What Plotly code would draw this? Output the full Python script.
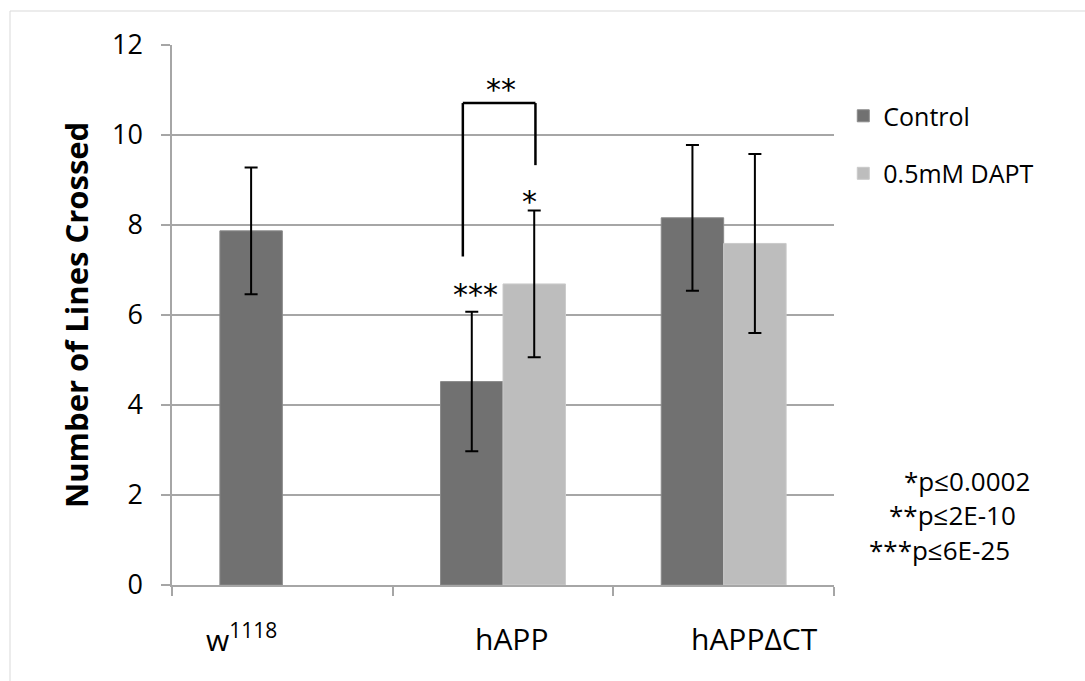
import plotly.graph_objects as go

categories = ["w1118", "hAPP", "hAPPΔCT"]
category_labels = ["w<sup>1118</sup>", "hAPP", "hAPPΔCT"]
control = [7.87, 4.52, 8.16]
control_err = [1.41, 1.55, 1.62]
dapt = [None, 6.69, 7.59]
dapt_err = [None, 1.63, 1.99]
series_names = ["Control", "0.5mM DAPT"]
pvalue_notes = ["*p≤0.0002", "**p≤2E-10", "***p≤6E-25"]
y_ticks = [0, 2, 4, 6, 8, 10, 12]

FONT = "Open Sans"
GRID = "#a6a6a6"

fig = go.Figure()
fig.add_trace(go.Bar(
    x=categories, y=control, name=series_names[0],
    marker=dict(color="#717171", line=dict(color="#8a8a8a", width=1)),
    error_y=dict(type="data", array=control_err, color="black", thickness=2, width=6.5),
    legendgroup="a",
))
fig.add_trace(go.Bar(
    x=categories, y=dapt, name=series_names[1],
    marker=dict(color="#bdbdbd", line=dict(color="#cacaca", width=1)),
    error_y=dict(type="data", array=dapt_err, color="black", thickness=2, width=6.5),
    legendgroup="b",
))

fig.update_layout(
    width=1085, height=681,
    margin=dict(l=172, r=251, t=45, b=96),
    paper_bgcolor="white", plot_bgcolor="white",
    barmode="group", bargap=0.434, bargroupgap=0,
    font=dict(family=FONT, size=26, color="black"),
    legend=dict(
        x=1.014, xanchor="left", y=0.911, yanchor="top",
        font=dict(family=FONT, size=25, color="black"),
        traceorder="grouped", tracegroupgap=22,
        bgcolor="rgba(0,0,0,0)",
    ),
    xaxis=dict(
        showticklabels=False, showline=True, linecolor=GRID, linewidth=1.5,
        ticks="outside", tickson="boundaries", ticklen=9, tickcolor=GRID, tickwidth=1.5,
        showgrid=False, zeroline=False,
    ),
    yaxis=dict(
        range=[0, 12], tickvals=y_ticks, showline=True, linecolor=GRID, linewidth=1.5,
        ticks="outside", ticklen=9, tickcolor=GRID, tickwidth=1.5,
        showgrid=True, gridcolor=GRID, gridwidth=1.5, zeroline=False,
        tickfont=dict(family=FONT, size=27, color="black"),
        ticklabelstandoff=13,
    ),
)

# y-axis title
fig.add_annotation(
    text="<b>Number of Lines Crossed</b>", textangle=-90,
    xref="paper", yref="paper", x=(76 - 172) / 662, y=0.5,
    xanchor="center", yanchor="middle", showarrow=False,
    font=dict(family=FONT, size=31, color="black"),
)

# x category labels
label_left = [-0.355, 0.865, 1.845]
for lab, xl in zip(category_labels, label_left):
    fig.add_annotation(
        text=lab, xref="x", yref="paper", x=xl, y=(585 - 638) / 540,
        xanchor="left", yanchor="middle", showarrow=False,
        font=dict(family=FONT, size=30, color="black"),
    )

# significance bracket
br = dict(color="black", width=2.5)
fig.add_shape(type="line", xref="x", yref="y", x0=0.818, x1=0.818, y0=7.30, y1=10.71, line=br)
fig.add_shape(type="line", xref="x", yref="y", x0=0.818, x1=1.147, y0=10.71, y1=10.71, line=br)
fig.add_shape(type="line", xref="x", yref="y", x0=1.147, x1=1.147, y0=9.33, y1=10.71, line=br)

for txt, xx, yy in [("**", 0.99, 11.02), ("*", 1.119, 8.53), ("***", 0.876, 6.45)]:
    fig.add_annotation(
        text=txt, xref="x", yref="y", x=xx, y=yy, xanchor="center", yanchor="middle",
        showarrow=False, font=dict(family="DejaVu Sans", size=30, color="black"),
    )

# p-value notes
for txt, xpx, ypx in zip(pvalue_notes, [902, 887, 867], [478, 512, 547]):
    fig.add_annotation(
        text=txt, xref="paper", yref="paper", x=(xpx - 172) / 662, y=(585 - ypx - 3) / 540,
        xanchor="left", yanchor="middle", showarrow=False,
        font=dict(family=FONT, size=26, color="black"),
    )

# outer frame
fig.add_shape(type="rect", xref="paper", yref="paper",
              x0=(10 - 172) / 662, x1=(1110 - 172) / 662,
              y0=(585 - 720) / 540, y1=(585 - 11) / 540,
              line=dict(color="#d9d9d9", width=1), layer="below")

fig.write_html("out.html")
